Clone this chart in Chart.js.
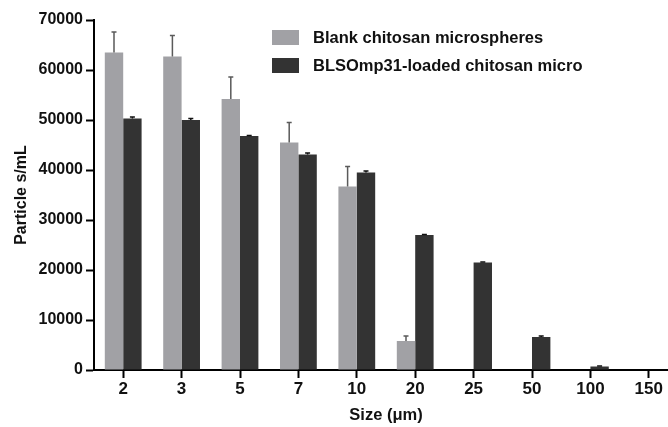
<!DOCTYPE html>
<html>
<head>
<meta charset="utf-8">
<script src="https://cdn.jsdelivr.net/npm/chart.js@4.4.1/dist/chart.umd.min.js"></script>
<style>
  html, body { margin: 0; padding: 0; overflow: hidden; background: #fff; width: 668px; height: 427px; }
  #wrap { position: absolute; left: 0; top: 0; width: 678px; height: 427px; }
</style>
</head>
<body>
<div id="wrap"><canvas id="chart"></canvas></div>
<script>
// Particle counts per size class (particles/mL), mean and upper SD
const sizes = ['2', '3', '5', '7', '10', '20', '25', '50', '100', '150'];
const blankMeans = [63500, 62700, 54200, 45500, 36700, 5800, 100, 0, 0, 0];
const blankErrors = [4100, 4200, 4400, 4000, 4000, 1000, 0, 0, 0, 0];
const loadedMeans = [50300, 50000, 46800, 43100, 39500, 27000, 21500, 6600, 700, 0];
const loadedErrors = [300, 300, 100, 300, 300, 100, 100, 200, 100, 0];
const seriesNames = ['Blank chitosan microspheres', 'BLSOmp31-loaded chitosan micro'];
const yTickValues = [0, 10000, 20000, 30000, 40000, 50000, 60000, 70000];

const FONT = "'Liberation Sans', Arial, Helvetica, sans-serif";
Chart.defaults.font.family = FONT;
Chart.defaults.color = '#111';

// Upper error whiskers with a short cap
const errorBars = {
  id: 'errorBars',
  afterDatasetsDraw(chart) {
    const ctx = chart.ctx;
    const yScale = chart.scales.y;
    chart.data.datasets.forEach((ds, di) => {
      const meta = chart.getDatasetMeta(di);
      meta.data.forEach((bar, i) => {
        const err = ds.errors[i];
        if (!err) return;
        const top = yScale.getPixelForValue(ds.data[i] + err);
        ctx.save();
        ctx.strokeStyle = ds.errorColor;
        ctx.lineWidth = 1.5;
        ctx.beginPath();
        ctx.moveTo(bar.x, bar.y);
        ctx.lineTo(bar.x, top);
        ctx.moveTo(bar.x - 2.5, top);
        ctx.lineTo(bar.x + 2.5, top);
        ctx.stroke();
        ctx.restore();
      });
    });
  }
};

// Legend drawn inside the plot, top right
const insideLegend = {
  id: 'insideLegend',
  afterDraw(chart) {
    const ctx = chart.ctx;
    const x0 = 272, boxW = 27, boxH = 15, textX = 313;
    const rows = [37.5, 65.5];
    ctx.save();
    chart.data.datasets.forEach((ds, i) => {
      const cy = rows[i];
      ctx.fillStyle = ds.backgroundColor;
      ctx.fillRect(x0, cy - boxH / 2, boxW, boxH);
      ctx.fillStyle = '#111';
      ctx.font = "bold 16.5px " + FONT;
      ctx.textBaseline = 'middle';
      ctx.textAlign = 'left';
      ctx.fillText(ds.label, textX, cy + 1);
    });
    ctx.restore();
  }
};

new Chart(document.getElementById('chart'), {
  type: 'bar',
  data: {
    labels: sizes,
    datasets: [
      {
        label: seriesNames[0],
        data: blankMeans,
        errors: blankErrors,
        errorColor: '#5a5a5a',
        backgroundColor: '#a1a1a5',
        borderWidth: 0
      },
      {
        label: seriesNames[1],
        data: loadedMeans,
        errors: loadedErrors,
        errorColor: '#111',
        backgroundColor: '#333333',
        borderWidth: 0
      }
    ]
  },
  options: {
    responsive: true,
    maintainAspectRatio: false,
    animation: false,
    layout: { padding: { left: 0, right: 0, top: 20, bottom: 0 } },
    datasets: { bar: { categoryPercentage: 0.63, barPercentage: 1.0 } },
    plugins: {
      legend: { display: false },
      tooltip: { enabled: false }
    },
    scales: {
      x: {
        grid: {
          display: true, drawOnChartArea: false, drawTicks: true, offset: false,
          tickLength: 8, tickWidth: 2, tickColor: '#000'
        },
        border: { display: true, color: '#000', width: 2 },
        ticks: { font: { size: 17, weight: 'bold' }, color: '#111', padding: 1, maxRotation: 0 },
        title: {
          display: true, text: 'Size (\u03bcm)',
          font: { size: 16.5, weight: 'bold' }, color: '#111',
          padding: { top: 0, bottom: 2 }
        },
        afterFit(scale) { scale.height = 57; }
      },
      y: {
        min: 0, max: 70000,
        afterBuildTicks(scale) { scale.ticks = yTickValues.map(v => ({ value: v })); },
        grid: {
          display: true, drawOnChartArea: false, drawTicks: true,
          tickLength: 8, tickWidth: 2, tickColor: '#000'
        },
        border: { display: true, color: '#000', width: 2 },
        ticks: {
          font: { size: 16, weight: 'bold' }, color: '#111', padding: 3,
          callback: (v) => String(v)
        },
        title: {
          display: true, text: 'Particle s/mL',
          font: { size: 16, weight: 'bold' }, color: '#111',
          padding: { top: 12, bottom: 0 }
        },
        afterFit(scale) { scale.width = 94; }
      }
    }
  },
  plugins: [errorBars, insideLegend]
});
</script>
</body>
</html>
